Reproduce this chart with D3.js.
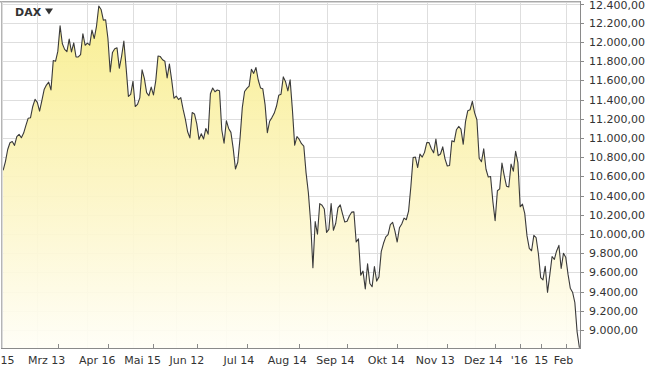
<!DOCTYPE html>
<html><head><meta charset="utf-8">
<script src="https://cdn.jsdelivr.net/npm/d3@7"></script>
<style>html,body{margin:0;padding:0;background:#fff;}svg{display:block;}</style>
</head><body>
<svg id="chart" width="654" height="367"></svg>
<script>
// DAX daily closes, one array per month (trading days)
const feb15 = [10663,10754,10880,10950,10963,10923,11014,11037,11002,11051,11131,11206,11210,11328,11402];
const mar15 = [11370,11280,11390,11504,11551,11582,11500,11806,11799,11902,12168,11981,11923,11900,12030,11896,11990,11844,11844,11868,12086,11966];
const apr15 = [11988,11967,12124,12036,12166,12375,12339,12228,12231,12039,11689,11891,11930,11939,11726,11850,12010,11730,11433,11454];
const may15 = [11590,11328,11350,11417,11710,11620,11472,11440,11530,11448,11595,11853,11848,11815,11800,11625,11771,11603,11414];
const jun15 = [11436,11400,11420,11300,11197,11065,11001,11265,11250,11150,10985,11044,10990,11099,11040,11460,11520,11482,11500,11492,11083,10945];
const jul15 = [11180,11099,11058,10891,10677,10747,10996,11316,11484,11517,11540,11716,11673,11734,11604,11521,11512,11347,11056,11174,11212,11257,11330];
const aug15 = [11444,11456,11636,11585,11491,11605,11294,10925,11015,10985,10940,10916,10636,10432,10124,9648,10128,9997,10316,10299,10260];
const sep15 = [10016,10048,10318,10038,10109,10271,10303,10210,10124,10132,10188,10227,10230,9916,9948,9571,9613,9428,9689,9484,9450,9660];
const oct15 = [9509,9553,9815,9903,9970,9993,10097,10120,10033,9916,10065,10104,10165,10148,10238,10492,10795,10801,10692,10832,10801,10850];
const nov15 = [10951,10951,10887,10845,10988,10816,10833,10908,10783,10708,10713,10971,10960,11085,11120,11092,10934,11170,11284,11294,11382];
const dec15 = [11261,11190,10789,10752,10886,10674,10593,10599,10340,10139,10450,10469,10738,10608,10498,10489,10728,10654,10860,10743];
const jan16 = [10283,10310,10214,9980,9849,9825,9985,9961,9794,9545,9522,9664,9392,9574,9765,9736,9823,9881,9640,9798];
const feb16 = [9758,9581,9435,9393,9286,8979,8815];
const months = [feb15,mar15,apr15,may15,jun15,jul15,aug15,sep15,oct15,nov15,dec15,jan16,feb16];

// x-axis labels (trading-day index of each tick)
const tickIdx    = [0.5, 24, 46, 66, 85, 107, 130, 151, 173, 195, 216, 227, 236, 247];
const tickLabels = ["15","Mrz 13","Apr 16","Mai 15","Jun 12","Jul 14","Aug 14","Sep 14","Okt 14","Nov 13","Dez 14","'16","15","Feb"];
// y-axis ticks
const yTicks = d3.range(9000, 12401, 200);
const yDomain = [8812, 12406];

const closes = [].concat(...months);
const monthStarts = [];
{ let c = 0; months.forEach((m, k) => { if (k > 0) monthStarts.push(c); c += m.length; }); }

const svg = d3.select("#chart");
const L = 3, R = 580, T = 3, B = 348;
const x = d3.scaleLinear().domain([0, closes.length - 1]).range([3.14, 579.4]);
const y = d3.scaleLinear().domain(yDomain).range([B, T]);

const de = d3.formatLocale({decimal: ",", thousands: ".", grouping: [3], currency: ["", "€"]});
const fmt = de.format(",.2f");
const FONT = "'DejaVu Sans', Verdana, sans-serif";

svg.append("rect").attr("width", 654).attr("height", 367).attr("fill", "#fff");

const defs = svg.append("defs");
const grad = defs.append("linearGradient").attr("id", "fillg")
  .attr("gradientUnits", "userSpaceOnUse").attr("x1", 0).attr("x2", 0).attr("y1", T).attr("y2", B);
grad.append("stop").attr("offset", "0%").attr("stop-color", "#f8ed88");
grad.append("stop").attr("offset", "55%").attr("stop-color", "#fcf5c4");
grad.append("stop").attr("offset", "100%").attr("stop-color", "#fffef6");
defs.append("clipPath").attr("id", "plotclip").append("rect")
  .attr("x", L).attr("y", T).attr("width", R - L).attr("height", B - T);

// grid
const grid = svg.append("g");
grid.selectAll("line.h").data(yTicks).join("line").attr("class", "h")
  .attr("x1", L).attr("x2", R).attr("y1", d => Math.round(y(d)) + 0.5).attr("y2", d => Math.round(y(d)) + 0.5)
  .attr("stroke", "#dedede").attr("stroke-width", 1);
grid.selectAll("line.v").data(monthStarts).join("line").attr("class", "v")
  .attr("x1", d => Math.round(x(d)) + 0.5).attr("x2", d => Math.round(x(d)) + 0.5).attr("y1", T).attr("y2", B)
  .attr("stroke", "#dedede").attr("stroke-width", 1);

// area + line
const plot = svg.append("g").attr("clip-path", "url(#plotclip)");
plot.append("path").datum(closes)
  .attr("d", d3.area().x((d, i) => x(i)).y0(B).y1(d => y(d)))
  .attr("fill", "url(#fillg)").attr("fill-opacity", 0.92);
plot.append("path").datum(closes)
  .attr("d", d3.line().x((d, i) => x(i)).y(d => y(d)))
  .attr("fill", "none").attr("stroke", "#3a3a3a").attr("stroke-width", 1.1).attr("stroke-linejoin", "round");

// frame (top and left shadowed border)
svg.append("line").attr("x1", 0).attr("x2", R).attr("y1", 1.5).attr("y2", 1.5).attr("stroke", "#a9a9a9");
svg.append("line").attr("x1", 0).attr("x2", R).attr("y1", 2.5).attr("y2", 2.5).attr("stroke", "#d6d6d6");
svg.append("line").attr("x1", 1.5).attr("x2", 1.5).attr("y1", 1).attr("y2", B).attr("stroke", "#b5b5b5");
svg.append("line").attr("x1", 2.5).attr("x2", 2.5).attr("y1", 2).attr("y2", B).attr("stroke", "#dcdcdc");

// right axis
svg.append("line").attr("x1", R + 0.5).attr("x2", R + 0.5).attr("y1", 1).attr("y2", B + 1).attr("stroke", "#8a8a8a");
svg.selectAll("line.yt").data(yTicks).join("line").attr("class", "yt")
  .attr("x1", R).attr("x2", R + 4).attr("y1", d => Math.round(y(d)) + 0.5).attr("y2", d => Math.round(y(d)) + 0.5)
  .attr("stroke", "#8a8a8a");
svg.selectAll("text.yl").data(yTicks).join("text").attr("class", "yl")
  .attr("x", 589).attr("y", d => Math.max(y(d), 5.2)).attr("dy", "0.36em")
  .attr("font-family", FONT).attr("font-size", 11).attr("fill", "#333")
  .text(d => fmt(d));

// bottom axis
svg.append("line").attr("x1", 1).attr("x2", R + 1).attr("y1", B + 0.5).attr("y2", B + 0.5).attr("stroke", "#8a8a8a");
svg.selectAll("line.xt").data(tickIdx.filter(d => d >= 1)).join("line").attr("class", "xt")
  .attr("x1", d => Math.round(x(d)) + 0.5).attr("x2", d => Math.round(x(d)) + 0.5).attr("y1", B - 4).attr("y2", B)
  .attr("stroke", "#8a8a8a");
const xl = svg.selectAll("text.xl").data(tickIdx).join("text").attr("class", "xl")
  .attr("x", d => x(d) + 7.5).attr("y", 364).attr("text-anchor", "end")
  .attr("font-family", FONT).attr("font-size", 11).attr("fill", "#333")
  .text((d, i) => tickLabels[i]);
// keep edge labels fully inside the picture
xl.each(function() {
  const b = this.getBBox();
  if (b.x < 0.5) d3.select(this).attr("x", +d3.select(this).attr("x") + (0.5 - b.x));
});

// title
svg.append("text").attr("x", 15).attr("y", 16)
  .attr("font-family", FONT).attr("font-size", 11).attr("font-weight", "bold")
  .attr("fill", "#333").text("DAX");
svg.append("path").attr("d", "M45,8.5 L53,8.5 L49,14.5 Z").attr("fill", "#333");
</script>
</body></html>
